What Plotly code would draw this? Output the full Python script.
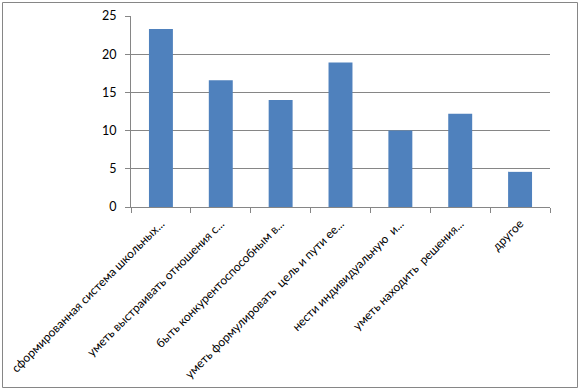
import plotly.graph_objects as go

categories = [
    "сформированная система школьных...",
    "уметь выстраивать отношения с...",
    "быть конкурентоспособным в...",
    "уметь формулировать  цель и пути ее...",
    "нести индивидуальную  и...",
    "уметь находить  решения...",
    "другое",
]
values = [23.3, 16.6, 14.0, 18.9, 10.0, 12.2, 4.6]
y_ticks = [0, 5, 10, 15, 20, 25]

W, H = 588, 392
L, R, T, B = 131, 38, 16, 185
pw, ph = W - L - R, H - T - B

fig = go.Figure(go.Bar(x=categories, y=values, marker=dict(color="#4F81BD", line=dict(width=0)),
                       width=0.4))

fig.update_layout(
    width=W, height=H,
    margin=dict(l=L, r=R, t=T, b=B, autoexpand=False),
    paper_bgcolor="white", plot_bgcolor="white",
    font=dict(family="Lato, Open Sans, sans-serif", size=12, color="#000000"),
    showlegend=False,
    bargap=0.6,
)
fig.update_xaxes(
    tickangle=-45, showgrid=False, showline=True, linecolor="#868686", linewidth=1,
    ticks="outside", ticklen=5, tickcolor="#868686", tickson="boundaries",
    tickfont=dict(size=12), range=[-0.5, 6.5], automargin=False, ticklabelstandoff=4,
)
fig.update_yaxes(
    range=[0, 25], tickvals=y_ticks, showgrid=True, gridcolor="#868686", gridwidth=1,
    showline=True, linecolor="#868686", linewidth=1, ticks="outside", ticklen=5,
    tickcolor="#868686", zeroline=False, tickfont=dict(size=12.5), automargin=False,
    ticklabelstandoff=6,
)
# outer chart border
fig.add_shape(type="rect", xref="paper", yref="paper",
              x0=(2.5 - L) / pw, x1=(W - 10.5 - L) / pw,
              y0=-(H - 4.5 - T - ph) / ph, y1=(ph + T - 2.5) / ph,
              line=dict(color="#868686", width=1), fillcolor="rgba(0,0,0,0)", layer="below")

fig.write_html("out.html", config={"displayModeBar": False},
               post_script="document.body.style.margin='0';document.body.style.overflow='hidden';")
